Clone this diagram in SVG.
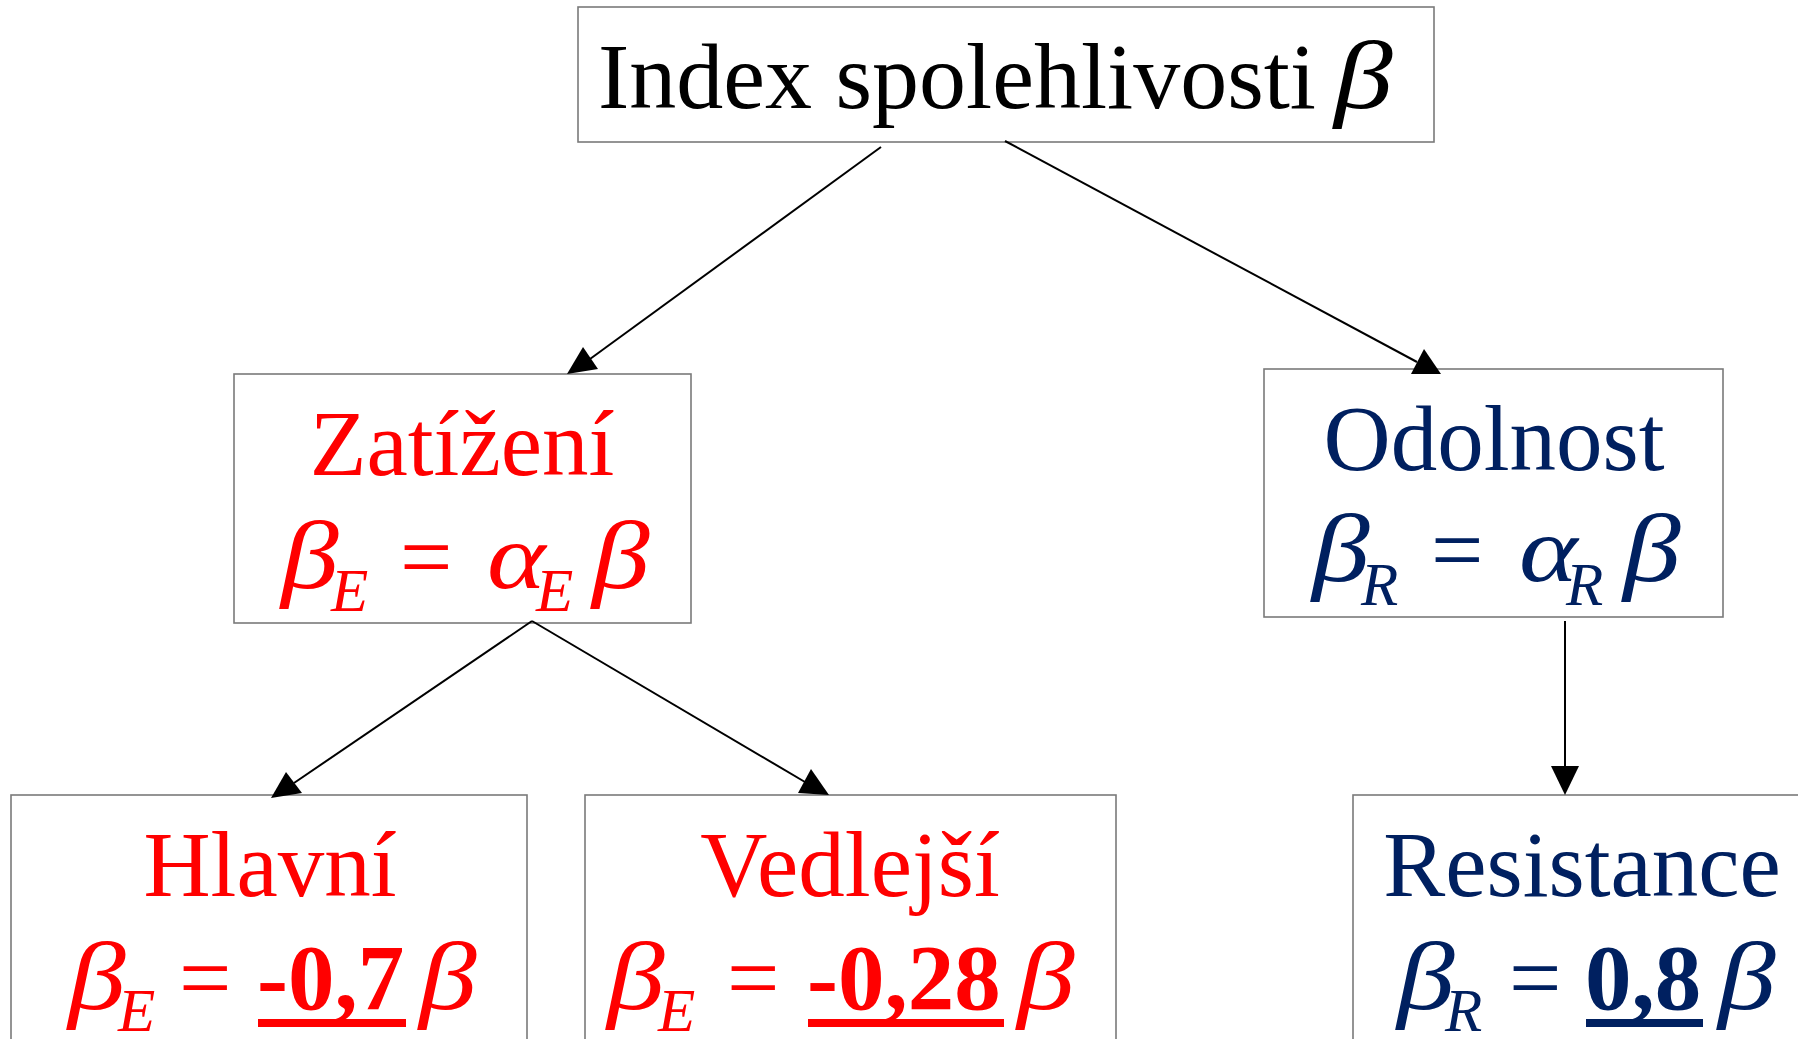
<svg xmlns="http://www.w3.org/2000/svg" width="1798" height="1039" viewBox="0 0 1798 1039">
<style>
.box{fill:#fff;stroke:#7a7a7a;stroke-width:1.6}
.t{font-family:"Liberation Serif","Times New Roman",serif;font-size:93px}
.g{font-family:"Liberation Serif","Times New Roman",serif;font-size:98px;font-style:italic}
.b{font-weight:bold}
.sub{font-size:61px;font-style:italic}
.red{fill:#ff0000}
.blue{fill:#002060}
.ln{stroke:#000;stroke-width:2;fill:none}
.hd{fill:#000}
</style>
<rect width="1798" height="1039" fill="#fff"/>
<g id="node-index">
<rect class="box" x="578" y="7" width="856" height="135"/>
<text class="t" x="598" y="108" style="font-size:94px">Index spolehlivosti</text>
<text class="g" transform="translate(1334,108) scale(1.2,1)">β</text>
</g>
<g id="node-zatizeni">
<rect class="box" x="234" y="374" width="457" height="249"/>
<text class="t red" x="462" y="475" text-anchor="middle">Zatížení</text>
<text class="g red" transform="translate(281,588) scale(1.18,1)">β</text>
<text class="t red"><tspan class="sub" x="331" y="611">E</tspan><tspan x="400" y="588">=</tspan><tspan class="sub" x="536" y="611">E</tspan></text>
<text class="t red" transform="translate(487,588) scale(1.2,1)" style="font-style:italic">α</text>
<text class="g red" transform="translate(592,588) scale(1.18,1)">β</text>
</g>
<g id="node-odolnost">
<rect class="box" x="1264" y="369" width="459" height="248"/>
<text class="t blue" x="1494" y="470" text-anchor="middle">Odolnost</text>
<text class="g blue" transform="translate(1312,581) scale(1.18,1)">β</text>
<text class="t blue"><tspan class="sub" x="1361" y="605">R</tspan><tspan x="1431" y="581">=</tspan><tspan class="sub" x="1566" y="605">R</tspan></text>
<text class="t blue" transform="translate(1519,581) scale(1.2,1)" style="font-style:italic">α</text>
<text class="g blue" transform="translate(1623,581) scale(1.18,1)">β</text>
</g>
<g id="node-hlavni">
<rect class="box" x="11" y="795" width="516" height="270"/>
<text class="t red" x="270" y="896" text-anchor="middle">Hlavní</text>
<text class="g red" transform="translate(68,1009) scale(1.18,1)">β</text>
<text class="t red"><tspan class="sub" x="118" y="1031">E</tspan><tspan x="179" y="1009">=</tspan><tspan class="b" x="257" y="1009">-0,7</tspan></text>
<text class="g red" transform="translate(419,1009) scale(1.18,1)">β</text>
<rect class="red" x="258" y="1019" width="148" height="8"/>
</g>
<g id="node-vedlejsi">
<rect class="box" x="585" y="795" width="531" height="270"/>
<text class="t red" x="850" y="896" text-anchor="middle">Vedlejší</text>
<text class="g red" transform="translate(607,1009) scale(1.18,1)">β</text>
<text class="t red"><tspan class="sub" x="658" y="1031">E</tspan><tspan x="727" y="1009">=</tspan><tspan class="b" x="807" y="1009">-0,28</tspan></text>
<text class="g red" transform="translate(1017,1009) scale(1.18,1)">β</text>
<rect class="red" x="808" y="1019" width="196" height="8"/>
</g>
<g id="node-resistance">
<rect class="box" x="1353" y="795" width="470" height="270"/>
<text class="t blue" x="1582" y="896" text-anchor="middle">Resistance</text>
<text class="g blue" transform="translate(1397,1009) scale(1.18,1)">β</text>
<text class="t blue"><tspan class="sub" x="1445" y="1031">R</tspan><tspan x="1509" y="1009">=</tspan><tspan class="b" x="1585" y="1009">0,8</tspan></text>
<text class="g blue" transform="translate(1718,1009) scale(1.18,1)">β</text>
<rect class="blue" x="1586" y="1019" width="117" height="8"/>
</g>
<g id="connectors">
<line class="ln" x1="881" y1="147" x2="590" y2="359"/>
<polygon class="hd" points="583,347 567,374 598,369"/>
<line class="ln" x1="1005" y1="141" x2="1417" y2="362"/>
<polygon class="hd" points="1424,349 1411,374 1441,374"/>
<line class="ln" x1="532" y1="621" x2="294" y2="783"/>
<polygon class="hd" points="286,772 271,798 302,793"/>
<line class="ln" x1="532" y1="621" x2="805" y2="782"/>
<polygon class="hd" points="811,769 798,793 829,795"/>
<line class="ln" x1="1565" y1="621" x2="1565" y2="770"/>
<polygon class="hd" points="1551,766 1579,766 1565,795"/>
</g>
</svg>
